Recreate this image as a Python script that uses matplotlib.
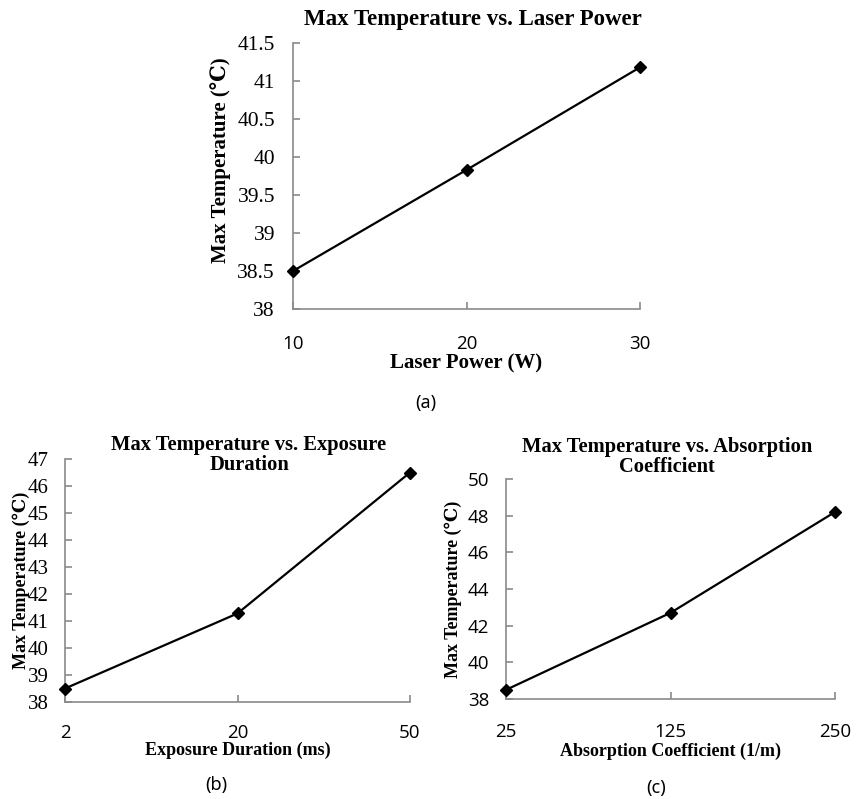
import numpy as np
import matplotlib
matplotlib.use("Agg")
import matplotlib.pyplot as plt

# data
power_labels = ["10", "20", "30"]
power_temp = [38.5, 39.83, 41.18]

exposure_labels = ["2", "20", "50"]
exposure_temp = [38.5, 41.28, 46.5]

absorb_labels = ["25", "125", "250"]
absorb_temp = [38.5, 42.7, 48.2]

SERIF = ["Liberation Serif", "DejaVu Serif", "DejaVu Sans"]
SANS = ["Open Sans", "DejaVu Sans"]
GRAY = "#8a8a8a"
W, H = 857, 799


def px_rect(left, top, right, bottom):
    # pixel box -> figure fraction
    return [left / W, 1 - bottom / H, (right - left) / W, (bottom - top) / H]


def draw(ax, labels, temps, ylim, ystep, ysans, ytick_size, ytick_pad, xtick_pad,
         xlabel, xlabel_y, ylabel_x, ylabel_y, label_size):
    x = np.arange(len(labels))
    ax.plot(x, temps, color="black", lw=1.6, marker="D", ms=6, clip_on=False, zorder=3)
    ax.set_xlim(0, len(labels) - 1)
    ax.set_ylim(*ylim)
    ax.set_xticks(x)
    ax.set_xticklabels(labels, fontfamily=SANS, fontsize=13.5)
    yt = np.arange(ylim[0], ylim[1] + ystep / 2, ystep)
    ax.set_yticks(yt)
    ax.set_yticklabels([f"{v:g}" for v in yt], fontfamily=SANS if ysans else SERIF,
                       fontsize=ytick_size)
    for s in ["top", "right"]:
        ax.spines[s].set_visible(False)
    for s in ["left", "bottom"]:
        ax.spines[s].set_color(GRAY)
        ax.spines[s].set_linewidth(1.2)
    ax.tick_params(axis="both", direction="in", length=5, width=1.2, color=GRAY,
                   labelcolor="black")
    ax.tick_params(axis="y", pad=ytick_pad)
    ax.tick_params(axis="x", pad=xtick_pad)
    ax.set_xlabel(xlabel, fontfamily=SERIF, fontweight="bold", fontsize=label_size, va="center")
    ax.set_ylabel("Max Temperature (\u2103)", fontfamily=SERIF, fontweight="bold",
                  fontsize=label_size, va="center")
    ax.xaxis.set_label_coords(0.5, xlabel_y)
    ax.yaxis.set_label_coords(ylabel_x, ylabel_y)


fig = plt.figure(figsize=(W / 100, H / 100), dpi=100)

# (a) laser power
ax_a = fig.add_axes(px_rect(293, 43, 640, 309))
draw(ax_a, power_labels, power_temp, (38, 41.5), 0.5, False, 15.5, 13, 19,
     "Laser Power (W)", -0.205, -0.21, 0.56, 15)
fig.text(473 / W, 1 - 19 / H, "Max Temperature vs. Laser Power", fontfamily=SERIF,
         fontweight="bold", fontsize=16.5, ha="center", va="center")
fig.text(426 / W, 1 - 403 / H, "(a)", fontfamily=["Noto Sans", "DejaVu Sans"], fontsize=13,
         ha="center", va="center")

# (b) exposure duration
ax_b = fig.add_axes(px_rect(65, 459, 410, 702))
draw(ax_b, exposure_labels, exposure_temp, (38, 47), 1, False, 15, 12, 16,
     "Exposure Duration (ms)", -0.2, -0.128, 0.5, 13)
fig.text(249 / W, 1 - 455 / H, "Max Temperature vs. Exposure\nDuration", fontfamily=SERIF,
         fontweight="bold", fontsize=14.8, ha="center", va="center", linespacing=1.05)
fig.text(216 / W, 1 - 785 / H, "(b)", fontfamily=["Noto Sans", "DejaVu Sans"], fontsize=13,
         ha="center", va="center")

# (c) absorption coefficient
ax_c = fig.add_axes(px_rect(506, 479, 835, 699))
draw(ax_c, absorb_labels, absorb_temp, (38, 50), 2, True, 13.5, 12, 17,
     "Absorption Coefficient (1/m)", -0.24, -0.161, 0.5, 13)
fig.text(667 / W, 1 - 457 / H, "Max Temperature vs. Absorption\nCoefficient", fontfamily=SERIF,
         fontweight="bold", fontsize=14.8, ha="center", va="center", linespacing=1.05)
fig.text(656 / W, 1 - 788 / H, "(c)", fontfamily=["Noto Sans", "DejaVu Sans"], fontsize=13,
         ha="center", va="center")

fig.savefig("out.png", dpi=100)
